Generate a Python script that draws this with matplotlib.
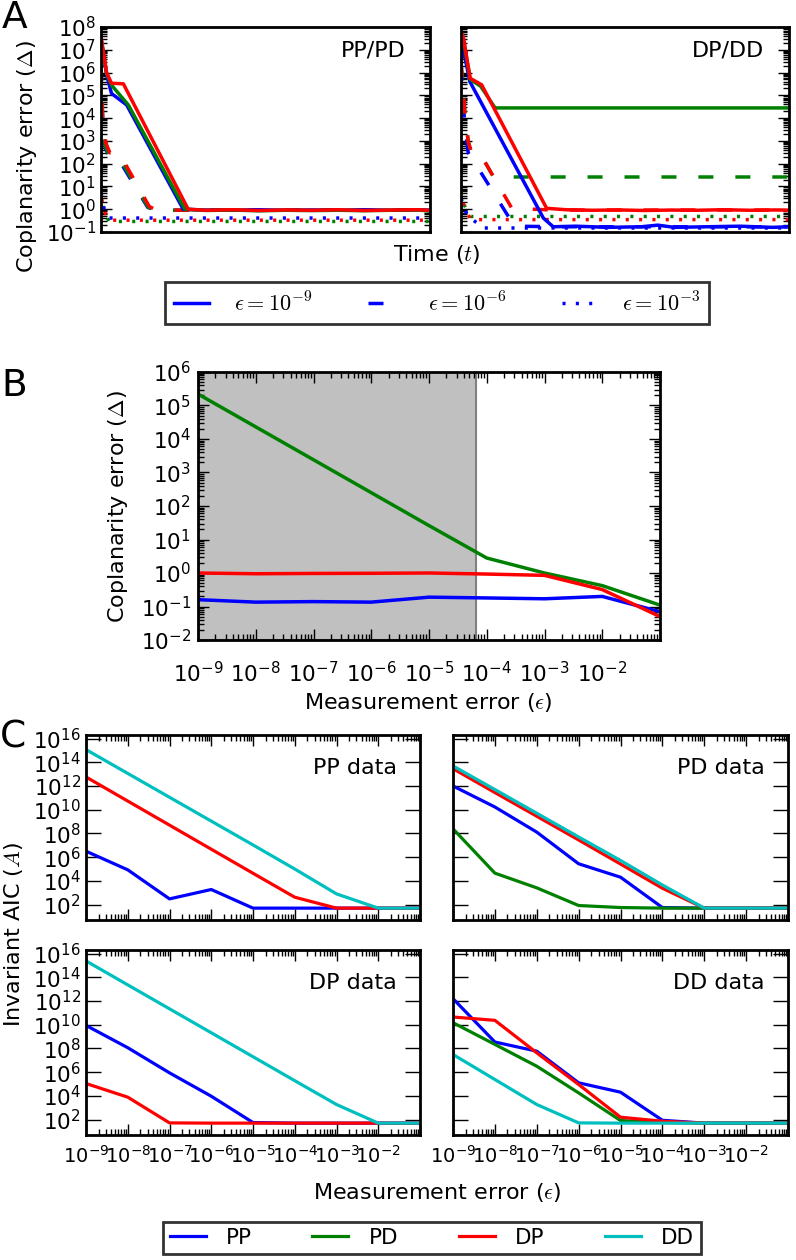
import numpy as np
import matplotlib
matplotlib.use('Agg')
import matplotlib.pyplot as plt
from matplotlib.lines import Line2D
from matplotlib.ticker import FixedLocator, FixedFormatter, NullLocator, LogLocator, NullFormatter

plt.rcParams['font.family'] = ['DejaVu Sans']
plt.rcParams['mathtext.fontset'] = 'cm'
plt.rcParams['lines.scale_dashes'] = False

# ---------------- colours ----------------
BLUE, GREEN, RED, CYAN = '#0000ff', '#008000', '#ff0000', '#00bfbf'

# ---------------- Panel A data (time in % of run) ----------------
# PP/PD
a1_red_solid_t = [0, 1.7, 3.2, 6.8, 26.5, 32, 40, 48, 56, 64, 72, 80, 88, 96, 100]
a1_red_solid = [4e7, 1e6, 3.4e5, 3.2e5, 1.0, 0.9, 0.95, 0.88, 0.93, 0.9, 0.95, 0.88, 0.92, 0.95, 0.9]
a1_green_solid_t = [0, 1.7, 3.2, 8.3, 25.5, 32, 40, 48, 56, 64, 72, 80, 88, 96, 100]
a1_green_solid = [3e7, 9e5, 2.8e5, 3.8e4, 1.0, 0.88, 0.92, 0.85, 0.9, 0.87, 0.9, 0.86, 0.9, 0.92, 0.85]
a1_blue_solid_t = [0, 1.7, 3.2, 7.8, 25.0, 32, 40, 48, 56, 64, 72, 80, 88, 96, 100]
a1_blue_solid = [3e7, 8e5, 1.2e5, 3.8e4, 1.0, 0.92, 0.9, 0.95, 0.9, 0.93, 0.9, 0.95, 0.9, 0.95, 0.9]
a1_red_dash_t = [0, 0.5, 1.5, 2.7, 5.6, 14.7, 17, 100]
a1_red_dash = [2e6, 1e4, 8e2, 3e2, 2.8e2, 1.3, 0.91, 0.91]
a1_green_dash_t = [0, 0.5, 1.3, 2.5, 5.3, 14.4, 17, 100]
a1_green_dash = [2e6, 8e3, 6e2, 2.2e2, 2.1e2, 1.2, 0.9, 0.9]
a1_blue_dash_t = [0, 0.5, 1.3, 2.5, 5.0, 14.2, 17, 100]
a1_blue_dash = [2e6, 8e3, 5e2, 2e2, 1.9e2, 1.2, 0.9, 0.9]
a1_dot_t = [0, 1, 2.5, 100]
a1_blue_dot = [5, 1.0, 0.41, 0.41]
a1_red_dot = [4, 0.8, 0.33, 0.33]
a1_green_dot = [3, 0.7, 0.29, 0.29]

# DP/DD
a2_red_solid_t = [0, 0.7, 2.8, 6.3, 26.1, 32, 40, 48, 56, 64, 72, 80, 88, 96, 100]
a2_red_solid = [6e7, 3.7e7, 5.6e5, 2.9e5, 1.1, 0.95, 0.9, 0.93, 0.88, 0.92, 0.9, 0.95, 0.9, 0.93, 0.9]
a2_green_solid_t = [0, 0.7, 2.8, 6.0, 10.4, 100]
a2_green_solid = [6e7, 3e7, 5e5, 2.5e5, 2.8e4, 2.8e4]
a2_blue_solid_t = [0, 1.7, 2.7, 25.1, 28.1, 35, 45, 55, 60, 65, 75, 85, 95, 100]
a2_blue_solid = [3e7, 2.1e6, 4e5, 0.41, 0.17, 0.18, 0.16, 0.17, 0.2, 0.16, 0.17, 0.18, 0.16, 0.17]
a2_red_dash_t = [0, 1.2, 2.2, 3.2, 5.8, 15.5, 28, 100]
a2_red_dash = [3e6, 1.6e4, 9.3e2, 3e2, 2.8e2, 1.1, 0.92, 0.92]
a2_green_dash_t = [0, 1.2, 2.2, 3.2, 5.8, 9.9, 100]
a2_green_dash = [3e6, 1.6e4, 9.3e2, 3e2, 2.8e2, 26, 26]
a2_blue_dash_t = [0, 1.2, 2.2, 3.5, 16.3, 30, 100]
a2_blue_dash = [2e6, 4e3, 3e2, 1.6e2, 0.18, 0.17, 0.17]
a2_dot_t = [0, 1, 3, 100]
a2_green_dot = [6, 1.5, 0.48, 0.48]
a2_red_dot = [4, 1.2, 0.35, 0.35]
a2_blue_dot_t = [0, 2, 7, 100]
a2_blue_dot = [3, 0.5, 0.15, 0.15]

# ---------------- Panel B data ----------------
b_eps = [1e-9, 1e-8, 1e-7, 1e-6, 1e-5, 1e-4, 1e-3, 1e-2, 1e-1]
b_blue = [0.16, 0.135, 0.14, 0.135, 0.19, 0.18, 0.17, 0.2, 0.07]
b_green = [2.2e5, 2.3e4, 2.4e3, 250, 26, 2.8, 1.0, 0.42, 0.11]
b_red = [1.0, 0.95, 0.97, 0.98, 1.0, 0.93, 0.85, 0.32, 0.05]
b_shade_end = 6.5e-5

# ---------------- Panel C data (log10 of invariant AIC) ----------------
c_eps = [1e-9, 1e-8, 1e-7, 1e-6, 1e-5, 1e-4, 1e-3, 1e-2, 1e-1]
c_pp_PP = [6.5, 4.93, 2.48, 3.27, 1.7, 1.7, 1.7, 1.7, 1.7]
c_pp_DP = [12.76, 10.73, 8.7, 6.67, 4.64, 2.62, 1.7, 1.7, 1.7]
c_pp_DD = [15.07, 13.06, 11.05, 9.04, 7.03, 5.0, 2.9, 1.7, 1.7]

c_pd_PP = [12.0, 10.23, 8.11, 5.44, 4.31, 1.75, 1.7, 1.7, 1.7]
c_pd_PD = [8.39, 4.65, 3.41, 1.92, 1.75, 1.7, 1.7, 1.7, 1.7]
c_pd_DP = [13.46, 11.45, 9.45, 7.45, 5.42, 3.38, 1.7, 1.7, 1.7]
c_pd_DD = [13.69, 11.7, 9.7, 7.7, 5.72, 3.65, 1.7, 1.7, 1.7]

c_dp_PP = [9.94, 8.06, 5.94, 3.97, 1.75, 1.7, 1.7, 1.7, 1.7]
c_dp_DP = [5.04, 3.89, 1.72, 1.7, 1.7, 1.7, 1.7, 1.7, 1.7]
c_dp_DD = [15.38, 13.36, 11.34, 9.32, 7.3, 5.28, 3.27, 1.7, 1.7]

c_dd_PP = [12.2, 8.54, 7.77, 5.1, 4.31, 1.94, 1.7, 1.7, 1.7]
c_dd_PD = [10.17, 8.34, 6.5, 4.25, 1.92, 1.75, 1.7, 1.7, 1.7]
c_dd_DP = [10.65, 10.37, 7.63, 4.96, 2.2, 1.86, 1.7, 1.7, 1.7]
c_dd_DD = [7.49, 5.38, 3.27, 1.72, 1.7, 1.7, 1.7, 1.7, 1.7]

eps_tick_labels = [r'$\mathdefault{10^{-9}}$', r'$\mathdefault{10^{-8}}$', r'$\mathdefault{10^{-7}}$',
                   r'$\mathdefault{10^{-6}}$', r'$\mathdefault{10^{-5}}$', r'$\mathdefault{10^{-4}}$',
                   r'$\mathdefault{10^{-3}}$', r'$\mathdefault{10^{-2}}$', '']

# ---------------- figure ----------------
W, H = 796, 1260
fig = plt.figure(figsize=(W / 100, H / 100), dpi=100)

TICK_FS = 15.5
LABEL_FS = 16
LETTER_FS = 27


def ax_px(x0, y0, x1, y1):
    return fig.add_axes([x0 / W, 1 - y1 / H, (x1 - x0) / W, (y1 - y0) / H])


def ftext(x, y, s, **kw):
    fig.text(x / W, 1 - y / H, s, **kw)


def style(ax):
    ax.tick_params(which='both', direction='in', top=True, right=True, width=1,
                   labelsize=TICK_FS)
    ax.tick_params(which='major', length=8)
    ax.tick_params(which='minor', length=4)
    for s in ax.spines.values():
        s.set_linewidth(2)


LW = 2.5
DASH = (0, (10.8, 15.8))
DOT = (0, (2.2, 7.4))

# ---------------- Panel A ----------------
axA1 = ax_px(101, 27, 430, 232)
axA2 = ax_px(461, 27, 789, 232)
for ax in (axA1, axA2):
    ax.set_yscale('log')
    ax.set_xlim(0, 100)
    ax.set_ylim(0.1, 1e8)
    ax.yaxis.set_major_locator(LogLocator(base=10, numticks=20))
    ax.yaxis.set_minor_locator(LogLocator(base=10, subs=np.arange(2, 10), numticks=20))
    ax.set_xticks([])
    style(ax)
axA2.tick_params(labelleft=False)

# PP/PD
axA1.plot(a1_dot_t, a1_green_dot, color=GREEN, lw=LW, linestyle=(4, (2.2, 7.4)))
axA1.plot(a1_dot_t, a1_red_dot, color=RED, lw=LW, linestyle=(7, (2.2, 7.4)))
axA1.plot(a1_dot_t, a1_blue_dot, color=BLUE, lw=LW, linestyle=DOT)
axA1.plot(a1_blue_dash_t, a1_blue_dash, color=BLUE, lw=LW, linestyle=DASH)
axA1.plot(a1_green_dash_t, a1_green_dash, color=GREEN, lw=LW, linestyle=DASH)
axA1.plot(a1_red_dash_t, a1_red_dash, color=RED, lw=LW, linestyle=DASH)
axA1.plot(a1_blue_solid_t, a1_blue_solid, color=BLUE, lw=LW)
axA1.plot(a1_green_solid_t, a1_green_solid, color=GREEN, lw=LW)
axA1.plot(a1_red_solid_t, a1_red_solid, color=RED, lw=LW)
axA1.text(0.925, 0.885, 'PP/PD', transform=axA1.transAxes, ha='right', va='center', fontsize=LABEL_FS)

# DP/DD
axA2.plot(a2_dot_t, a2_green_dot, color=GREEN, lw=LW, linestyle=DOT)
axA2.plot(a2_dot_t, a2_red_dot, color=RED, lw=LW, linestyle=(4, (2.2, 7.4)))
axA2.plot(a2_blue_dot_t, a2_blue_dot, color=BLUE, lw=LW, linestyle=DOT)
axA2.plot(a2_blue_dash_t, a2_blue_dash, color=BLUE, lw=LW, linestyle=DASH)
axA2.plot(a2_green_dash_t, a2_green_dash, color=GREEN, lw=LW, linestyle=DASH)
axA2.plot(a2_red_dash_t, a2_red_dash, color=RED, lw=LW, linestyle=DASH)
axA2.plot(a2_blue_solid_t, a2_blue_solid, color=BLUE, lw=LW)
axA2.plot(a2_green_solid_t, a2_green_solid, color=GREEN, lw=LW)
axA2.plot(a2_red_solid_t, a2_red_solid, color=RED, lw=LW)
axA2.text(0.925, 0.885, 'DP/DD', transform=axA2.transAxes, ha='right', va='center', fontsize=LABEL_FS)

ftext(27, 157, r'Coplanarity error ($\Delta$)', rotation=90, ha='center', va='center', fontsize=LABEL_FS)
ftext(437, 255, r'Time ($t$)', ha='center', va='center', fontsize=LABEL_FS)
ftext(2, 0, 'A', ha='left', va='top', fontsize=LETTER_FS)

legA_handles = [Line2D([], [], color=BLUE, lw=LW, linestyle='-'),
                Line2D([], [], color=BLUE, lw=LW, linestyle=DASH),
                Line2D([], [], color=BLUE, lw=LW, linestyle=DOT)]
legA_labels = [r'$\epsilon=10^{-9}$', r'$\epsilon=10^{-6}$', r'$\epsilon=10^{-3}$']
legA = fig.legend(legA_handles, legA_labels, loc='center', ncol=3,
                  bbox_to_anchor=(437 / W, 1 - 303 / H), fontsize=16, frameon=True,
                  fancybox=False, handlelength=1.6, handletextpad=1.1, columnspacing=2.5,
                  borderpad=0.4)
legA.get_frame().set_edgecolor('black')
legA.get_frame().set_linewidth(2)

# ---------------- Panel B ----------------
axB = ax_px(198, 372, 660, 640)
axB.set_xscale('log')
axB.set_yscale('log')
axB.axvspan(1e-9, b_shade_end, facecolor='#c0c0c0', edgecolor='#808080', lw=1.5, zorder=0)
axB.plot(b_eps, b_blue, color=BLUE, lw=LW)
axB.plot(b_eps, b_green, color=GREEN, lw=LW)
axB.plot(b_eps, b_red, color=RED, lw=LW)
axB.set_xlim(1e-9, 1e-1)
axB.set_ylim(1e-2, 1e6)
axB.xaxis.set_major_locator(FixedLocator(b_eps))
axB.xaxis.set_major_formatter(FixedFormatter(eps_tick_labels))
axB.xaxis.set_minor_locator(LogLocator(base=10, subs=np.arange(2, 10), numticks=20))
axB.xaxis.set_minor_formatter(NullFormatter())
axB.yaxis.set_major_locator(LogLocator(base=10, numticks=20))
axB.yaxis.set_minor_locator(LogLocator(base=10, subs=np.arange(2, 10), numticks=20))
style(axB)
axB.tick_params(axis='x', pad=15)
axB.tick_params(axis='y', pad=5)
ftext(118, 507, r'Coplanarity error ($\Delta$)', rotation=90, ha='center', va='center', fontsize=LABEL_FS)
ftext(428, 703, r'Measurement error ($\epsilon$)', ha='center', va='center', fontsize=LABEL_FS)
ftext(1, 386, 'B', ha='left', va='center', fontsize=LETTER_FS)

# ---------------- Panel C ----------------
c_axes_px = {
    'PP': (86, 735, 420, 920),
    'PD': (453, 735, 788, 920),
    'DP': (86, 950, 420, 1135),
    'DD': (453, 950, 788, 1135),
}
c_series = {
    'PP': [(c_pp_PP, BLUE), (c_pp_DP, RED), (c_pp_DD, CYAN)],
    'PD': [(c_pd_PP, BLUE), (c_pd_PD, GREEN), (c_pd_DP, RED), (c_pd_DD, CYAN)],
    'DP': [(c_dp_PP, BLUE), (c_dp_DP, RED), (c_dp_DD, CYAN)],
    'DD': [(c_dd_PP, BLUE), (c_dd_PD, GREEN), (c_dd_DP, RED), (c_dd_DD, CYAN)],
}
c_yticks = [1e2, 1e4, 1e6, 1e8, 1e10, 1e12, 1e14, 1e16]
for name, rect in c_axes_px.items():
    ax = ax_px(*rect)
    ax.set_xscale('log')
    ax.set_yscale('log')
    for vals, col in c_series[name]:
        ax.plot(c_eps, 10 ** np.array(vals), color=col, lw=2.3)
    ax.set_xlim(1e-9, 1e-1)
    ax.set_ylim(5, 2e16)
    ax.xaxis.set_major_locator(FixedLocator(c_eps))
    ax.xaxis.set_major_formatter(FixedFormatter(eps_tick_labels))
    ax.xaxis.set_minor_locator(LogLocator(base=10, subs=np.arange(2, 10), numticks=20))
    ax.xaxis.set_minor_formatter(NullFormatter())
    ax.yaxis.set_major_locator(FixedLocator(c_yticks))
    ax.yaxis.set_minor_locator(NullLocator())
    style(ax)
    ax.tick_params(axis='y', which='major', length=11)
    ax.tick_params(axis='x', pad=7, labelsize=14)
    if name in ('PD', 'DD'):
        ax.tick_params(labelleft=False)
    if name in ('PP', 'PD'):
        ax.tick_params(labelbottom=False)
    ax.text(0.93, 0.82, name + ' data', transform=ax.transAxes, ha='right', va='center', fontsize=LABEL_FS)

ftext(14, 935, r'Invariant AIC ($A$)', rotation=90, ha='center', va='center', fontsize=LABEL_FS)
ftext(437, 1193, r'Measurement error ($\epsilon$)', ha='center', va='center', fontsize=LABEL_FS)
ftext(0, 737, 'C', ha='left', va='center', fontsize=LETTER_FS)

legC_handles = [Line2D([], [], color=c, lw=2.3) for c in (BLUE, GREEN, RED, CYAN)]
legC_labels = ['PP', 'PD', 'DP', 'DD']
legC = fig.legend(legC_handles, legC_labels, loc='center', ncol=4,
                  bbox_to_anchor=(432 / W, 1 - 1238 / H), fontsize=15.5, frameon=True,
                  fancybox=False, handlelength=1.67, handletextpad=0.95, columnspacing=2.8,
                  borderpad=0.3)
legC.get_frame().set_edgecolor('black')
legC.get_frame().set_linewidth(2)

fig.savefig('out.png', dpi=100)
